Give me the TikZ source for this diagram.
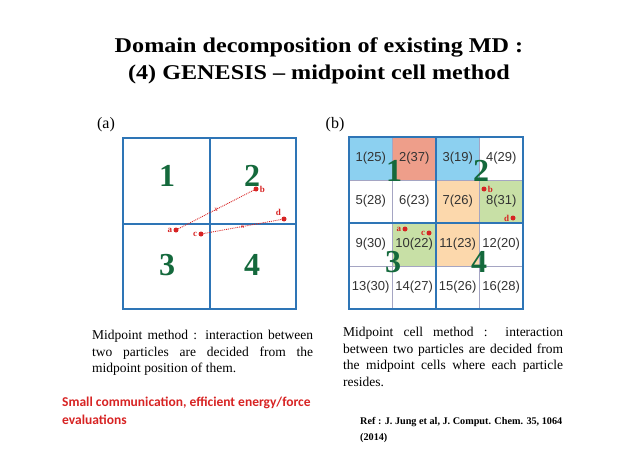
\documentclass[tikz,border=0pt]{standalone}
\usepackage{fontspec}
\setmainfont{Liberation Serif}
\setsansfont{Liberation Sans}
\newfontfamily\calibri{Carlito}
\newfontfamily\titlefont{Liberation Serif}[FakeStretch=1.15]
\newcommand\nohyph{\hyphenpenalty=10000 \exhyphenpenalty=10000 }
\usetikzlibrary{positioning}
\definecolor{gridblue}{RGB}{46,117,182}
\definecolor{domgreen}{RGB}{20,105,60}
\definecolor{ptred}{RGB}{215,35,35}
\definecolor{cellblue}{RGB}{140,208,240}
\definecolor{cellsalmon}{RGB}{238,158,138}
\definecolor{cellorange}{RGB}{252,216,172}
\definecolor{cellgreen}{RGB}{200,224,166}
\definecolor{thingray}{RGB}{165,165,195}
\tikzset{domainbox/.style={rectangle, draw=gridblue, line width=2pt, minimum width=86.5pt, minimum height=85.5pt, inner sep=0pt, outer sep=0pt}}
\tikzset{bignum/.style={text=domgreen, font=\bfseries\fontsize{32}{32}\selectfont, inner sep=0pt}}
\tikzset{cell/.style={rectangle, draw=thingray, line width=0.8pt, minimum width=43.5pt, minimum height=43pt, inner sep=0pt, outer sep=0pt, text=black!80, font=\sffamily\fontsize{13}{13}\selectfont}}
\tikzset{domline/.style={draw=gridblue, line width=2pt}}
\tikzset{particle/.style={circle, fill=ptred, minimum size=5pt, inner sep=0pt, label distance=1pt}}
\tikzset{ptlabel/.style={text=ptred, font=\bfseries\fontsize{9}{9}\selectfont, inner sep=1pt}}
\tikzset{pair/.style={draw=ptred, densely dotted, line width=0.9pt}}
\tikzset{panel/.style={font=\fontsize{16}{16}\selectfont, inner sep=0pt}}
\tikzset{body/.style={anchor=north west, inner sep=0pt, align=justify, font=\fontsize{13.5}{16.5}\selectfont\nohyph}}

\begin{document}
\begin{tikzpicture}[x=1pt, y=-1pt]
        \useasboundingbox (0,0) rectangle (638,452);

        % title
        \node[align=center, font=\titlefont\bfseries\fontsize{21}{27}\selectfont] (title) at (319,61)
            {Domain decomposition of existing MD :\\(4) GENESIS – midpoint cell method};

        % (a) midpoint method
        \node[panel] (laba) at (106,125) {(a)};
        \node[domainbox, anchor=north west] (d1) at (123,138) {};
        \node[domainbox, right=0pt of d1] (d2) {};
        \node[domainbox, below=0pt of d1] (d3) {};
        \node[domainbox, right=0pt of d3] (d4) {};
        \node[bignum] (a1) at (167,176) {1};
        \node[bignum] (a2) at (252,176) {2};
        \node[bignum] (a3) at (167,265) {3};
        \node[bignum] (a4) at (252,265) {4};

        \node[particle, label={[ptlabel]left:a}]        (pa) at (176,230) {};
        \node[particle, label={[ptlabel]right:b}]       (pb) at (256,189) {};
        \node[particle, label={[ptlabel]left:c}]        (pc) at (201,234) {};
        \node[particle, label={[ptlabel]above left:d}]  (pd) at (284,219) {};
        \path[pair] (pa) -- node[ptlabel, font=\fontsize{7}{7}\selectfont] {x} (pb);
        \path[pair] (pc) -- node[ptlabel, font=\fontsize{7}{7}\selectfont] {x} (pd);

        % (b) midpoint cell method
        \node[panel] (labb) at (335,125) {(b)};
        \node[cell, fill=cellblue, anchor=north west] (c1) at (349,137) {1(25)};
        \node[cell, fill=cellsalmon, right=0pt of c1]   (c2) {2(37)};
        \node[cell, fill=cellblue, right=0pt of c2]     (c3) {3(19)};
        \node[cell, right=0pt of c3]                    (c4) {4(29)};
        \node[cell, below=0pt of c1]                    (c5) {5(28)};
        \node[cell, right=0pt of c5]                    (c6) {6(23)};
        \node[cell, fill=cellorange, right=0pt of c6]   (c7) {7(26)};
        \node[cell, fill=cellgreen, right=0pt of c7]    (c8) {8(31)};
        \node[cell, below=0pt of c5]                    (c9) {9(30)};
        \node[cell, fill=cellgreen, right=0pt of c9]    (c10) {10(22)};
        \node[cell, fill=cellorange, right=0pt of c10]  (c11) {11(23)};
        \node[cell, right=0pt of c11]                   (c12) {12(20)};
        \node[cell, below=0pt of c9]                    (c13) {13(30)};
        \node[cell, right=0pt of c13]                   (c14) {14(27)};
        \node[cell, right=0pt of c14]                   (c15) {15(26)};
        \node[cell, right=0pt of c15]                   (c16) {16(28)};

        \path[domline] (c1.north west) rectangle (c16.south east);
        \path[domline] (c2.north east) -- (c14.south east);
        \path[domline] (c5.south west) -- (c8.south east);

        \node[bignum] (b1) at (394,171) {1};
        \node[bignum] (b2) at (481,171) {2};
        \node[bignum] (b3) at (393,262) {3};
        \node[bignum] (b4) at (479,262) {4};

        \node[particle, label={[ptlabel]left:a}]   (qa) at (405,229) {};
        \node[particle, label={[ptlabel]right:b}]  (qb) at (484,189) {};
        \node[particle, label={[ptlabel]left:c}]   (qc) at (429,233) {};
        \node[particle, label={[ptlabel]left:d}]   (qd) at (513,218) {};

        % captions
        \node[body, text width=221pt] (capa) at (92,330)
            {Midpoint method : interaction between two particles are decided from the midpoint position of them.};
        \node[body, text width=220pt] (capb) at (343,327)
            {Midpoint cell method : interaction between two particles are decided from the midpoint cells where each particle resides.};
        \node[anchor=north west, inner sep=0pt, align=left, text=ptred, font=\calibri\bfseries\fontsize{13.5}{17.5}\selectfont] (note) at (62,397)
            {Small communication, efficient energy/force\\evaluations};
        \node[anchor=north west, inner sep=0pt, align=left, font=\bfseries\fontsize{10.2}{16}\selectfont] (ref) at (360,417)
            {Ref : J. Jung et al, J. Comput. Chem. 35, 1064\\(2014)};
      \end{tikzpicture}
\end{document}
